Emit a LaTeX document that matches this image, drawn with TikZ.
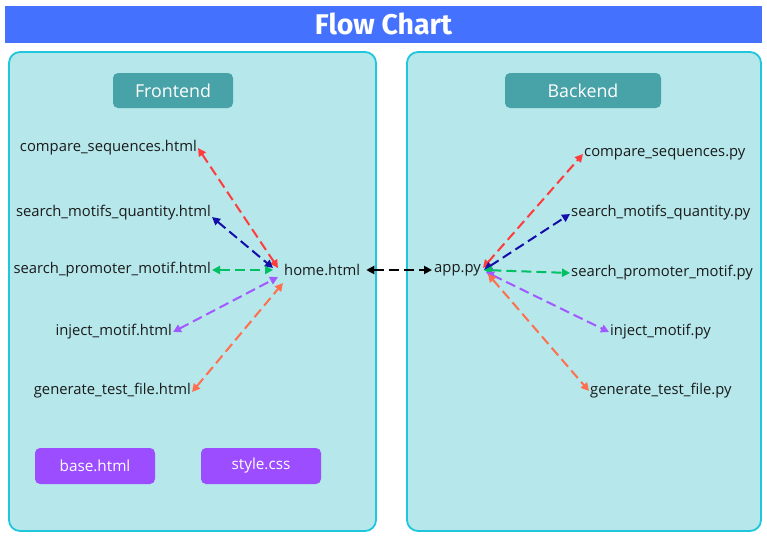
\documentclass[tikz,border=0pt]{standalone}
\usepackage{fontspec}
\setmainfont{Open Sans}
\newfontfamily\titlefont{Fira Sans}
\usetikzlibrary{arrows.meta}

\begin{document}
\begin{tikzpicture}[x=1pt, y=-1pt,
	panel/.style={fill=cPanel, draw=cBorder, line width=1.8, rounded corners=11pt},
	tag/.style={fill=cTag, rounded corners=5pt, minimum height=35pt, text=white, font=\fontsize{17.8}{20}\selectfont},
	asset/.style={fill=cAsset, rounded corners=5pt, minimum width=120pt, minimum height=36pt, text=white, font=\fontsize{15.3}{18}\selectfont},
	file/.style={inner sep=1pt, yshift=-1pt, text=cText, font=\fontsize{14.8}{17}\selectfont},
	link/.style={line width=2, dash pattern=on 10pt off 5pt, {Triangle[length=8pt,width=8pt]}-{Triangle[length=8pt,width=8pt]}}]
	\definecolor{cTitle}{HTML}{4472FF}
	\definecolor{cPanel}{HTML}{B5E7EB}
	\definecolor{cBorder}{HTML}{1EC6DE}
	\definecolor{cTag}{HTML}{48A3A8}
	\definecolor{cAsset}{HTML}{9C4DFF}
	\definecolor{cText}{HTML}{1A1A1A}
	\definecolor{cRed}{HTML}{FF3B3B}
	\definecolor{cNavy}{HTML}{140DAA}
	\definecolor{cGreen}{HTML}{00C064}
	\definecolor{cViolet}{HTML}{A259FF}
	\definecolor{cOrange}{HTML}{FF6F4D}

	\useasboundingbox (0,0) rectangle (767,538);
	\fill[white] (0,0) rectangle (767,538);

	% header
	\fill[cTitle] (5,6) rectangle (762,43);
	\node[text=white, font=\titlefont\bfseries\fontsize{28.5}{32}\selectfont] (title) at (383.5,24) {Flow Chart};

	% the two columns
	\draw[panel] (9,52) rectangle (376,531);
	\draw[panel] (407,52) rectangle (761,531);
	\node[tag, minimum width=120pt] (front) at (173,90.5) {Frontend};
	\node[tag, minimum width=156pt] (back) at (583,90.5) {Backend};

	% templates
	\node[file, anchor=east] (cmph) at (198,147) {compare\_sequences.html};
	\node[file, anchor=east] (smqh) at (212,212) {search\_motifs\_quantity.html};
	\node[file, anchor=east] (spmh) at (212,269) {search\_promoter\_motif.html};
	\node[file, anchor=east] (injh) at (173,331) {inject\_motif.html};
	\node[file, anchor=east] (genh) at (192,390) {generate\_test\_file.html};
	\node[file, anchor=west] (home) at (283,269) {home.html};
	\node[asset] (base) at (95,466) {base.html};
	\node[asset] (css) at (261,466) {style.css};

	% scripts
	\node[file, anchor=west] (app) at (433,269) {app.py};
	\node[file, anchor=west] (cmpp) at (583,153) {compare\_sequences.py};
	\node[file, anchor=west] (smqp) at (570,212) {search\_motifs\_quantity.py};
	\node[file, anchor=west] (spmp) at (570,272) {search\_promoter\_motif.py};
	\node[file, anchor=west] (injp) at (609,331) {inject\_motif.py};
	\node[file, anchor=west] (genp) at (589,390) {generate\_test\_file.py};

	% links on the frontend side
	\draw[link, cRed] (cmph.east) -- ([xshift=-5pt,yshift=2pt]home.west);
	\draw[link, cNavy] ([yshift=-4pt]smqh.east) -- ([xshift=-10pt,yshift=2pt]home.west);
	\draw[link, cGreen] (spmh.east) -- ([xshift=-10pt]home.west);
	\draw[link, cViolet] (injh.east) -- ([xshift=-5pt,yshift=-7pt]home.west);
	\draw[link, cOrange] ([yshift=-1pt]genh.east) -- ([yshift=-13pt]home.west);

	% frontend <-> backend
	\draw[link, black, shorten <=5pt, shorten >=1pt] (home.east) -- (app.west);

	% links on the backend side
	\draw[link, cRed] ([xshift=1pt,yshift=2pt]app.east) -- (cmpp.west);
	\draw[link, cNavy] ([xshift=2pt]app.east) -- ([yshift=-1pt]smqp.west);
	\draw[link, cGreen] ([xshift=2pt]app.east) -- (spmp.west);
	\draw[link, cViolet] ([xshift=4pt,yshift=-2pt]app.east) -- (injp.west);
	\draw[link, cOrange] ([xshift=6pt,yshift=-4pt]app.east) -- (genp.west);
\end{tikzpicture}
\end{document}
